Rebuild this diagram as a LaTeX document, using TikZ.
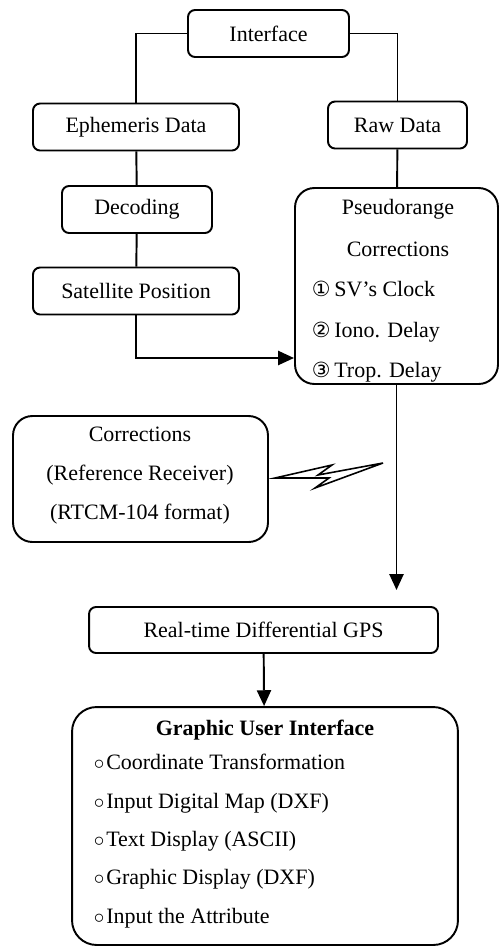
\documentclass[tikz,border=0pt]{standalone}
\usepackage{fontspec}
\setmainfont{Liberation Serif}
\newfontfamily\symfont[Scale=0.95]{DejaVu Sans}
\usetikzlibrary{arrows.meta}

\begin{document}
\begin{tikzpicture}[x=0.02cm, y=-0.02cm, line width=1.1pt,
  font=\fontsize{12.5}{15}\selectfont,
  box/.style={draw, rounded corners=4pt, inner sep=0pt, minimum height=0.94cm},
  bigbox/.style={draw, rounded corners=11pt, inner sep=0pt},
  txt/.style={inner sep=0pt, align=center},
  arr/.style={-{Triangle[length=9pt,width=8pt]}}]

\useasboundingbox (0,0) rectangle (500,947);

% top and left column

\node[box, minimum width=3.22cm] (intf) at (268.5,33.5) {Interface};
\node[box, minimum width=4.12cm] (eph) at (136,127) {Ephemeris Data};
\node[box, minimum width=3.00cm] (dec) at (137,209.5) {Decoding};
\node[box, minimum width=4.12cm] (sat) at (136,291) {Satellite Position};

% right column

\node[box, minimum width=2.78cm] (raw) at (397.5,125) {Raw Data};
\node[bigbox, minimum width=4.06cm, minimum height=3.92cm] (pr) at (396.5,286) {};
\node[txt, font=\fontsize{12.5}{23.5}\selectfont] (prt) at (398,228) {Pseudorange\\Corrections};
\node[txt, anchor=west, align=left, font=\fontsize{12.5}{23}\selectfont] (pri) at (311,332)
  {{\symfont ①}\,SV’s Clock\\{\symfont ②}\,Iono. Delay\\{\symfont ③}\,Trop. Delay};

% reference receiver

\node[bigbox, minimum width=5.10cm, minimum height=2.52cm] (corr) at (140.5,479) {};
\node[txt, font=\fontsize{12.5}{22.2}\selectfont] (corrt) at (140,476)
  {Corrections\\(Reference Receiver)\\(RTCM-104 format)};

% bottom

\node[box, minimum width=6.98cm, minimum height=0.92cm] (rtk) at (263.5,630) {Real-time Differential GPS};
\node[bigbox, rounded corners=14pt, minimum width=7.72cm, minimum height=4.76cm] (gui) at (265,826) {};
\node[txt, font=\fontsize{12.5}{15}\selectfont\bfseries] (guit) at (265,730) {Graphic User Interface};
\node[txt, anchor=west, align=left, font=\fontsize{12.5}{21.8}\selectfont] (guii) at (93,841)
  {$\circ$\kern1pt Coordinate Transformation\\$\circ$\kern1pt Input Digital Map (DXF)\\$\circ$\kern1pt Text Display (ASCII)\\$\circ$\kern1pt Graphic Display (DXF)\\$\circ$\kern1pt Input the Attribute};

\coordinate (prin) at (294,358);
\coordinate (rtkin) at (396.5,590);

% edges

\draw (intf.west) -| (eph.north);
\draw (intf.east) -| (raw.north);
\draw (eph) -- (dec);
\draw (dec) -- (sat);
\draw (raw) -- (pr);
\draw[arr] (sat.south) |- (prin);
\draw[arr] (pr.south) -- (rtkin);
\draw[arr] (rtk) -- (gui);

% radio link

\draw[line width=0.9pt, line join=miter] (275,478) -- (332,465) -- (318,475) -- (383,463)
  -- (315,488) -- (329,478) -- cycle;

\end{tikzpicture}
\end{document}
